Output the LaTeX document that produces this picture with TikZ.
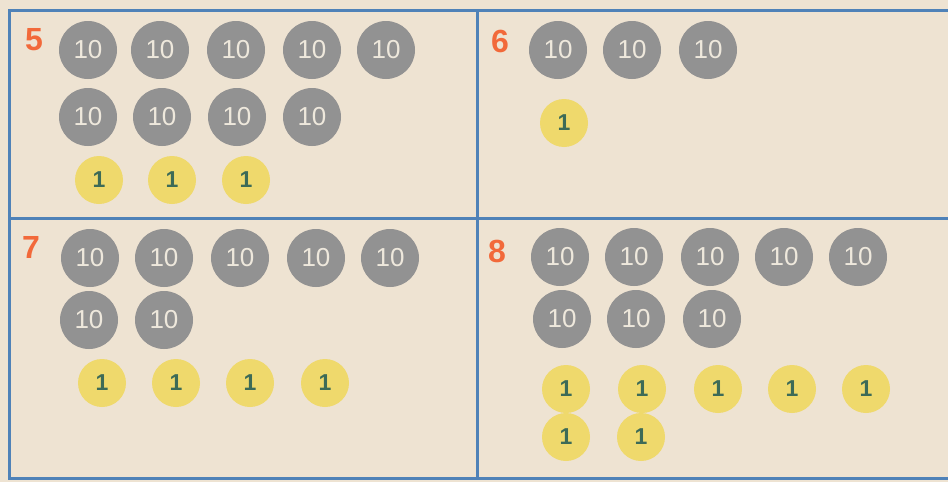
\documentclass[tikz,border=0pt]{standalone}
\usepackage{fontspec}
\setmainfont{Liberation Sans}
\definecolor{paper}{HTML}{EEE3D2}
\definecolor{frameblue}{HTML}{4F82B8}
\definecolor{coingray}{HTML}{929292}
\definecolor{coinface}{HTML}{EEE8DC}
\definecolor{coinyellow}{HTML}{EFD96C}
\definecolor{digitgreen}{HTML}{3D6B57}
\definecolor{labelorange}{HTML}{F2693A}
\tikzset{
  x=1pt, y=-1pt,
  frameline/.style={draw=frameblue, line width=3pt},
  ten/.style={circle, fill=coingray, minimum size=58pt, inner sep=0pt,
    text=coinface, font=\fontsize{26}{26}\selectfont},
  one/.style={circle, fill=coinyellow, minimum size=48pt, inner sep=0pt,
    text=digitgreen, font=\fontsize{23}{23}\selectfont\bfseries},
  plabel/.style={text=labelorange, font=\fontsize{32}{32}\selectfont\bfseries, inner sep=0pt}
}
\begin{document}
\begin{tikzpicture}
\fill[paper] (0,0) rectangle (948,482);
\useasboundingbox (0,0) rectangle (948,482);
% frame
\coordinate (tl) at (9,10);
\coordinate (tr) at (948,10);
\coordinate (ml) at (9,218);
\coordinate (mr) at (948,218);
\coordinate (bl) at (9,478);
\coordinate (br) at (948,478);
\coordinate (vt) at (477,10);
\coordinate (vb) at (477,478);
\draw[frameline] (tr) -- (tl) -- (bl) -- (br);
\draw[frameline] (ml) -- (mr);
\draw[frameline] (vt) -- (vb);
% labels
\node[plabel] (l5) at (34,40) {5};
\node[plabel] (l6) at (500,41) {6};
\node[plabel] (l7) at (31,247) {7};
\node[plabel] (l8) at (497,251) {8};
% panel 5
\foreach \x [count=\i] in {88,160,236,312,386} \node[ten] (a\i) at (\x,50) {10};
\foreach \x [count=\i] in {88,162,237,312} \node[ten] (b\i) at (\x,117) {10};
\foreach \x [count=\i] in {99,172,246} \node[one] (c\i) at (\x,180) {1};
% panel 6
\foreach \x [count=\i] in {558,632,708} \node[ten] (d\i) at (\x,50) {10};
\node[one] (e1) at (564,123) {1};
% panel 7
\foreach \x [count=\i] in {90,164,240,316,390} \node[ten] (f\i) at (\x,258) {10};
\foreach \x [count=\i] in {89,164} \node[ten] (g\i) at (\x,320) {10};
\foreach \x [count=\i] in {102,176,250,325} \node[one] (h\i) at (\x,383) {1};
% panel 8
\foreach \x [count=\i] in {560,634,710,784,858} \node[ten] (j\i) at (\x,257) {10};
\foreach \x [count=\i] in {562,636,712} \node[ten] (k\i) at (\x,319) {10};
\foreach \x [count=\i] in {566,642,718,792,866} \node[one] (m\i) at (\x,389) {1};
\foreach \x [count=\i] in {566,641} \node[one] (n\i) at (\x,437) {1};
\end{tikzpicture}
\end{document}
